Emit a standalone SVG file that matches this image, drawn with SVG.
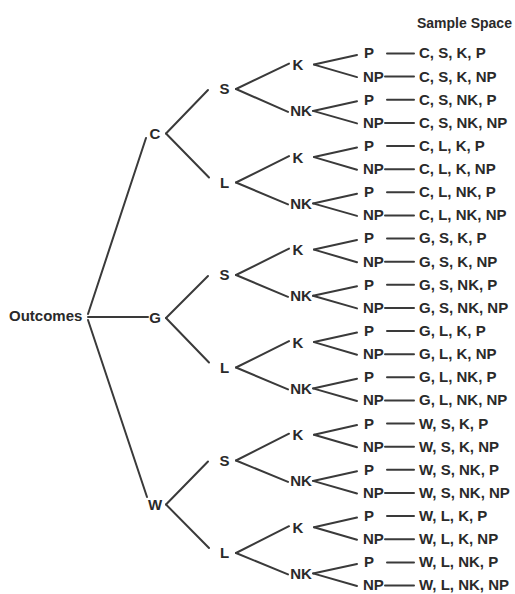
<svg xmlns="http://www.w3.org/2000/svg" width="515" height="594" viewBox="0 0 515 594">
<style>
text{font-family:"Liberation Sans",Arial,sans-serif;font-size:15px;font-weight:bold;fill:#2a2a2a}
.c{text-anchor:middle}
line{stroke:#3a3a3a;stroke-width:2;stroke-linecap:round}
</style>
<rect width="515" height="594" fill="#ffffff"/>
<g id="connectors">
<line x1="88" y1="314" x2="146" y2="138"/>
<line x1="88" y1="317" x2="148" y2="317"/>
<line x1="88" y1="320" x2="147" y2="497"/>
<line x1="166" y1="133.5" x2="208" y2="90"/>
<line x1="166" y1="133.5" x2="209" y2="177.5"/>
<line x1="166" y1="318" x2="208" y2="276"/>
<line x1="166" y1="318" x2="209" y2="362.5"/>
<line x1="166" y1="504.5" x2="208" y2="461.5"/>
<line x1="166" y1="504.5" x2="209" y2="548"/>
<line x1="236" y1="89" x2="289" y2="63.6"/>
<line x1="236" y1="89" x2="288" y2="111.9"/>
<line x1="236" y1="182.5" x2="289" y2="156.1"/>
<line x1="236" y1="182.5" x2="288" y2="204.4"/>
<line x1="236" y1="275" x2="289" y2="248.6"/>
<line x1="236" y1="275" x2="288" y2="296.8"/>
<line x1="236" y1="367.5" x2="289" y2="341.1"/>
<line x1="236" y1="367.5" x2="288" y2="389.4"/>
<line x1="236" y1="460.5" x2="289" y2="433.7"/>
<line x1="236" y1="460.5" x2="288" y2="481.9"/>
<line x1="236" y1="553" x2="289" y2="526.2"/>
<line x1="236" y1="553" x2="288" y2="574.4"/>
<line x1="314" y1="64.6" x2="357" y2="55"/><line x1="314" y1="64.6" x2="357" y2="77.1"/>
<line x1="313" y1="110.9" x2="357" y2="101.3"/><line x1="313" y1="110.9" x2="357" y2="123.4"/>
<line x1="314" y1="157.1" x2="357" y2="147.5"/><line x1="314" y1="157.1" x2="357" y2="169.7"/>
<line x1="313" y1="203.4" x2="357" y2="193.8"/><line x1="313" y1="203.4" x2="357" y2="215.9"/>
<line x1="314" y1="249.6" x2="357" y2="240"/><line x1="314" y1="249.6" x2="357" y2="262.2"/>
<line x1="313" y1="295.8" x2="357" y2="286.3"/><line x1="313" y1="295.8" x2="357" y2="308.4"/>
<line x1="314" y1="342.1" x2="357" y2="332.6"/><line x1="314" y1="342.1" x2="357" y2="354.7"/>
<line x1="313" y1="388.4" x2="357" y2="378.8"/><line x1="313" y1="388.4" x2="357" y2="401"/>
<line x1="314" y1="434.7" x2="357" y2="425.1"/><line x1="314" y1="434.7" x2="357" y2="447.2"/>
<line x1="313" y1="480.9" x2="357" y2="471.3"/><line x1="313" y1="480.9" x2="357" y2="493.5"/>
<line x1="314" y1="527.2" x2="357" y2="517.6"/><line x1="314" y1="527.2" x2="357" y2="539.7"/>
<line x1="313" y1="573.4" x2="357" y2="563.9"/><line x1="313" y1="573.4" x2="357" y2="586"/>
<line x1="387" y1="53.5" x2="414" y2="53.5"/><line x1="385" y1="76.6" x2="414" y2="76.6"/>
<line x1="387" y1="99.8" x2="414" y2="99.8"/><line x1="385" y1="122.9" x2="414" y2="122.9"/>
<line x1="387" y1="146" x2="414" y2="146"/><line x1="385" y1="169.2" x2="414" y2="169.2"/>
<line x1="387" y1="192.3" x2="414" y2="192.3"/><line x1="385" y1="215.4" x2="414" y2="215.4"/>
<line x1="387" y1="238.5" x2="414" y2="238.5"/><line x1="385" y1="261.7" x2="414" y2="261.7"/>
<line x1="387" y1="284.8" x2="414" y2="284.8"/><line x1="385" y1="307.9" x2="414" y2="307.9"/>
<line x1="387" y1="331.1" x2="414" y2="331.1"/><line x1="385" y1="354.2" x2="414" y2="354.2"/>
<line x1="387" y1="377.3" x2="414" y2="377.3"/><line x1="385" y1="400.5" x2="414" y2="400.5"/>
<line x1="387" y1="423.6" x2="414" y2="423.6"/><line x1="385" y1="446.7" x2="414" y2="446.7"/>
<line x1="387" y1="469.8" x2="414" y2="469.8"/><line x1="385" y1="493" x2="414" y2="493"/>
<line x1="387" y1="516.1" x2="414" y2="516.1"/><line x1="385" y1="539.2" x2="414" y2="539.2"/>
<line x1="387" y1="562.4" x2="414" y2="562.4"/><line x1="385" y1="585.5" x2="414" y2="585.5"/>
</g>
<g id="title"><text x="417" y="28" style="font-size:14px">Sample Space</text></g>
<g id="outcomes"><text x="9" y="321.4">Outcomes</text></g>
<g id="n-C"><text class="c" x="155" y="138.9">C</text></g>
<g id="n-G"><text class="c" x="155" y="323.4">G</text></g>
<g id="n-W"><text class="c" x="155" y="509.9">W</text></g>
<g id="n-CS"><text class="c" x="224.5" y="94.4">S</text></g>
<g id="n-CL"><text class="c" x="224.5" y="187.9">L</text></g>
<g id="n-GS"><text class="c" x="224.5" y="280.4">S</text></g>
<g id="n-GL"><text class="c" x="224.5" y="372.9">L</text></g>
<g id="n-WS"><text class="c" x="224.5" y="465.9">S</text></g>
<g id="n-WL"><text class="c" x="224.5" y="558.4">L</text></g>
<g id="n-CSK"><text class="c" x="298" y="70">K</text></g>
<g id="n-CSNK"><text class="c" x="301" y="116.3">NK</text></g>
<g id="n-CLK"><text class="c" x="298" y="162.5">K</text></g>
<g id="n-CLNK"><text class="c" x="301" y="208.8">NK</text></g>
<g id="n-GSK"><text class="c" x="298" y="255">K</text></g>
<g id="n-GSNK"><text class="c" x="301" y="301.2">NK</text></g>
<g id="n-GLK"><text class="c" x="298" y="347.5">K</text></g>
<g id="n-GLNK"><text class="c" x="301" y="393.8">NK</text></g>
<g id="n-WSK"><text class="c" x="298" y="440.1">K</text></g>
<g id="n-WSNK"><text class="c" x="301" y="486.3">NK</text></g>
<g id="n-WLK"><text class="c" x="298" y="532.6">K</text></g>
<g id="n-WLNK"><text class="c" x="301" y="578.8">NK</text></g>
<g id="leaves">
<g id="l1"><text x="364" y="58.4">P</text><text x="419" y="58.4">C, S, K, P</text></g>
<g id="l2"><text x="363" y="81.5">NP</text><text x="419" y="81.5">C, S, K, NP</text></g>
<g id="l3"><text x="364" y="104.7">P</text><text x="419" y="104.7">C, S, NK, P</text></g>
<g id="l4"><text x="363" y="127.8">NP</text><text x="419" y="127.8">C, S, NK, NP</text></g>
<g id="l5"><text x="364" y="150.9">P</text><text x="419" y="150.9">C, L, K, P</text></g>
<g id="l6"><text x="363" y="174.1">NP</text><text x="419" y="174.1">C, L, K, NP</text></g>
<g id="l7"><text x="364" y="197.2">P</text><text x="419" y="197.2">C, L, NK, P</text></g>
<g id="l8"><text x="363" y="220.3">NP</text><text x="419" y="220.3">C, L, NK, NP</text></g>
<g id="l9"><text x="364" y="243.4">P</text><text x="419" y="243.4">G, S, K, P</text></g>
<g id="l10"><text x="363" y="266.6">NP</text><text x="419" y="266.6">G, S, K, NP</text></g>
<g id="l11"><text x="364" y="289.7">P</text><text x="419" y="289.7">G, S, NK, P</text></g>
<g id="l12"><text x="363" y="312.8">NP</text><text x="419" y="312.8">G, S, NK, NP</text></g>
<g id="l13"><text x="364" y="336">P</text><text x="419" y="336">G, L, K, P</text></g>
<g id="l14"><text x="363" y="359.1">NP</text><text x="419" y="359.1">G, L, K, NP</text></g>
<g id="l15"><text x="364" y="382.2">P</text><text x="419" y="382.2">G, L, NK, P</text></g>
<g id="l16"><text x="363" y="405.4">NP</text><text x="419" y="405.4">G, L, NK, NP</text></g>
<g id="l17"><text x="364" y="428.5">P</text><text x="419" y="428.5">W, S, K, P</text></g>
<g id="l18"><text x="363" y="451.6">NP</text><text x="419" y="451.6">W, S, K, NP</text></g>
<g id="l19"><text x="364" y="474.7">P</text><text x="419" y="474.7">W, S, NK, P</text></g>
<g id="l20"><text x="363" y="497.9">NP</text><text x="419" y="497.9">W, S, NK, NP</text></g>
<g id="l21"><text x="364" y="521">P</text><text x="419" y="521">W, L, K, P</text></g>
<g id="l22"><text x="363" y="544.1">NP</text><text x="419" y="544.1">W, L, K, NP</text></g>
<g id="l23"><text x="364" y="567.3">P</text><text x="419" y="567.3">W, L, NK, P</text></g>
<g id="l24"><text x="363" y="590.4">NP</text><text x="419" y="590.4">W, L, NK, NP</text></g>
</g>
</svg>
